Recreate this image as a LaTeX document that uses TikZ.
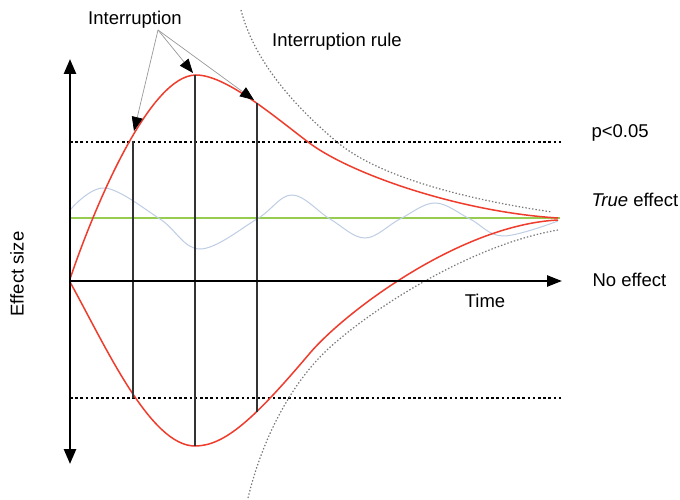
\documentclass[tikz,border=0pt]{standalone}
\usepackage{fontspec}
\setmainfont{Liberation Sans}
\usetikzlibrary{arrows.meta}
\definecolor{effred}{RGB}{238, 60, 45}
\definecolor{truegreen}{RGB}{150, 205, 80}
\definecolor{noise}{RGB}{190, 205, 228}
\definecolor{rulegrey}{RGB}{120, 120, 120}

\begin{document}
\begin{tikzpicture}[x=1pt, y=-1pt, font=\fontsize{18.5}{22}\selectfont,
    axis/.style={line width=2.6, {Triangle[length=15pt,width=12pt]}-{Triangle[length=15pt,width=12pt]}},
    level/.style={line width=1.4, dash pattern=on 2.6pt off 2.6pt},
    rulecurve/.style={rulegrey, line width=1.2, dash pattern=on 1.4pt off 2pt},
    estimate/.style={effred, line width=1.5},
    stopline/.style={black!80, line width=1.5},
    pointer/.style={gray!80, line width=0.7, -{Triangle[length=14pt,width=11pt,color=black]}}]
  \useasboundingbox (0, 0) rectangle (680, 500);
  \fill[white] (0, 0) rectangle (680, 500);

  \pgfmathsetmacro{\ynull}{281}
  \pgfmathsetmacro{\ytrue}{218}
  \pgfmathsetmacro{\xend}{562}

  % true effect and noise
  \draw[truegreen, line width=1.1] (70, \ytrue) -- (560, \ytrue);
  \draw[noise, line width=1] plot[smooth, tension=0.6] coordinates {
    (70,210) (105,188) (160,219) (200,249) (257,219) (292,195) (330,219)
    (365,238) (400,219) (435,203) (470,219) (503,236) (558,221)};

  % significance levels
  \foreach \y in {142, 398} {
    \draw[level] (70, \y) -- (\xend, \y);
  }

  % interruption rule
  \draw[rulecurve] (241, 10) .. controls (250, 45) and (275, 90) .. (337, 142)
    .. controls (380, 178) and (470, 200) .. (552, 212);
  \draw[rulecurve] (248, 498) .. controls (262, 440) and (290, 385) .. (327, 350)
    .. controls (370, 310) and (470, 245) .. (558, 230);

  % effect estimates
  \draw[estimate] (70, 279) .. controls (95, 205) and (150, 75) .. (196, 75)
    .. controls (225, 75) and (270, 113) .. (308, 142)
    .. controls (350, 174) and (460, 212) .. (558, 218);
  \draw[estimate] (70, 282) .. controls (105, 345) and (150, 446) .. (195, 446)
    .. controls (225, 446) and (255, 418) .. (310, 353)
    .. controls (345, 312) and (460, 225) .. (558, 220);

  % stopping points
  \foreach \x/\ya/\yb in {133/141/398, 195/75/446, 257/103/412} {
    \draw[stopline] (\x, \ya) -- (\x, \yb);
  }

  % axes
  \coordinate (ytop) at (70, 59);
  \coordinate (ybot) at (70, 464);
  \coordinate (origin) at (70, \ynull);
  \coordinate (xtip) at (\xend, \ynull);
  \draw[axis] (ybot) -- (ytop);
  \draw[line width=2.4, -{Triangle[length=15pt,width=11pt]}] (origin) -- (xtip);

  % interruption pointers
  \node (intr) at (135, 20) {Interruption};
  \coordinate (fan) at (158, 30);
  \coordinate (stopA) at (134, 131);
  \coordinate (stopB) at (193, 73);
  \coordinate (stopC) at (254, 100);
  \foreach \s in {stopA, stopB, stopC} {
    \draw[pointer] (fan) -- (\s);
  }

  \node (rule) at (337, 42) {Interruption rule};
  \node[anchor=west] (sig) at (588, 133) {p<0.05};
  \node[anchor=west] (true) at (588, 200) {\itshape True\upshape{} effect};
  \node[anchor=west] (none) at (589, 280) {No effect};
  \node (time) at (485, 301) {Time};
  \node[rotate=90] (esize) at (17, 274) {Effect size};

\end{tikzpicture}
\end{document}
